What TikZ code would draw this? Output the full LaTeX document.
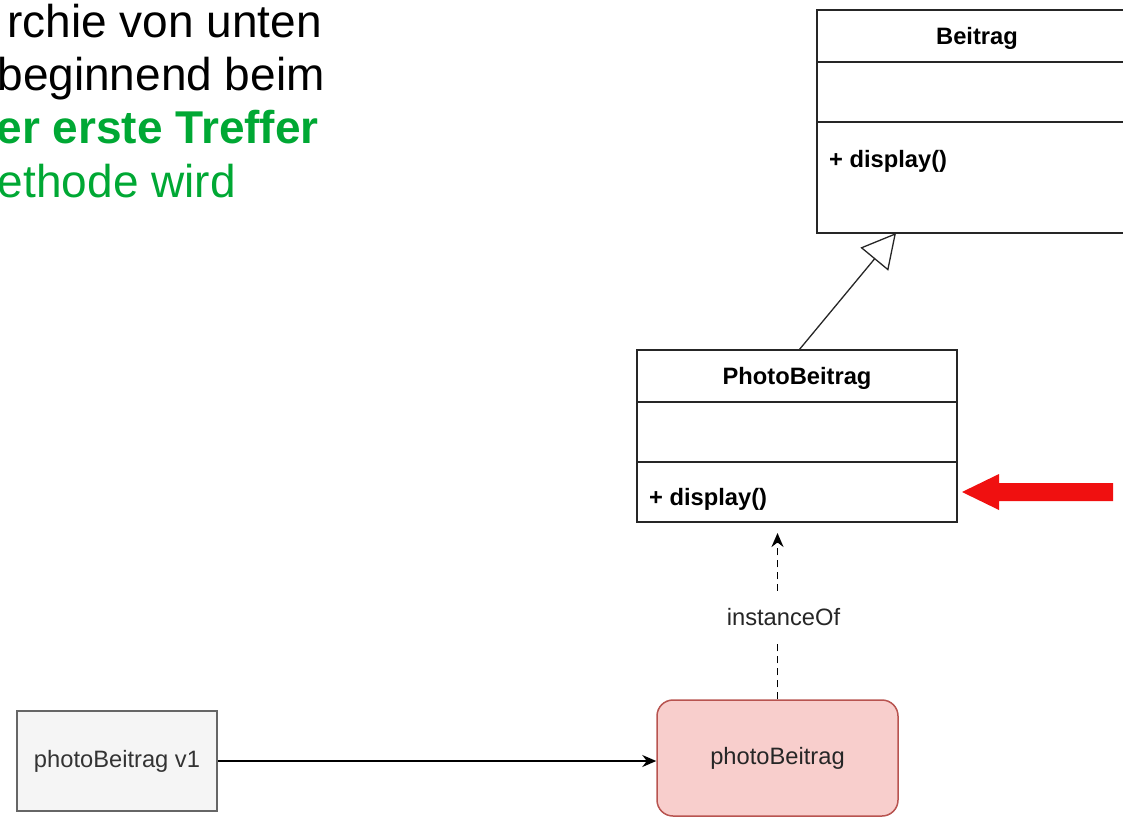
\documentclass[tikz,border=0pt]{standalone}
\usepackage{fontspec}
\setmainfont{Liberation Sans}
\usetikzlibrary{arrows.meta,calc}

\definecolor{hitgreen}{RGB}{0,168,52}
\definecolor{markred}{RGB}{240,16,16}
\definecolor{instfill}{HTML}{F8CECC}
\definecolor{instdraw}{HTML}{B85450}
\definecolor{reffill}{HTML}{F5F5F5}
\definecolor{refdraw}{HTML}{666666}
\definecolor{reftext}{HTML}{333333}

\tikzset{
  umlpart/.style={draw=black!85, line width=1.6pt, inner sep=0pt, outer sep=0pt,
    minimum width=320pt, anchor=north west},
  umlname/.style={font=\fontsize{23.7}{28}\selectfont\bfseries, anchor=base, inner sep=0pt},
  umlop/.style={font=\fontsize{23.7}{28}\selectfont\bfseries, anchor=base west, inner sep=0pt},
  plaintxt/.style={font=\fontsize{23.7}{28}\selectfont, inner sep=0pt},
  bigline/.style={font=\fontsize{46}{53}\selectfont, anchor=base east, inner sep=0pt},
  inherits/.style={line width=1.3pt, draw=black!85,
    -{Triangle[open, length=34pt, width=36pt, fill=white]}},
  instarrow/.style={line width=1.8pt, dash pattern=on 7pt off 5pt,
    -{Stealth[length=14pt, width=12pt]}},
  refarrow/.style={line width=1.6pt, -{Stealth[length=14pt, width=12pt]}},
}

\begin{document}
\begin{tikzpicture}[x=1pt, y=-1pt]
  \useasboundingbox (0,0) rectangle (1123,817);
  \clip (0,0) rectangle (1123,817);

  % explanatory text, upper left
  \node[bigline] (t1) at (322,37) {rchie von unten};
  \node[bigline] (t2) at (325,90) {beginnend beim};
  \node[bigline, text=hitgreen, font=\fontsize{46}{53}\selectfont\bfseries] (t3) at (319,143) {er erste Treffer};
  \node[bigline, text=hitgreen] (t4) at (236,197) {ethode wird};

  % class Beitrag
  \node[umlpart, minimum height=52pt] (bt) at (817,10) {};
  \node[umlpart, minimum height=60pt] (ba) at (bt.south west) {};
  \node[umlpart, minimum height=111pt] (bm) at (ba.south west) {};
  \node[umlname] (btn) at (977,44) {Beitrag};
  \node[umlop] (bop) at (829,167) {+ display()};

  % class PhotoBeitrag
  \node[umlpart, minimum height=52pt] (pt) at (637,350) {};
  \node[umlpart, minimum height=60pt] (pa) at (pt.south west) {};
  \node[umlpart, minimum height=60pt] (pm) at (pa.south west) {};
  \node[umlname] (ptn) at (797,384) {PhotoBeitrag};
  \node[umlop] (pop) at (649,505) {+ display()};

  % generalization PhotoBeitrag -> Beitrag
  \draw[inherits] ($(pt.north west)+(162,0)$) -- ($(bm.south west)+(79,0)$);

  % object and reference
  \node[draw=instdraw, fill=instfill, line width=1.5pt, rounded corners=16pt,
        minimum width=241pt, minimum height=116pt, plaintxt, text=black!85]
        (inst) at (777.5,758) {photoBeitrag};
  \node[draw=refdraw, fill=reffill, line width=1.5pt,
        minimum width=200pt, minimum height=100pt, plaintxt, text=reftext]
        (ref) at (117,761) {photoBeitrag v1};

  \draw[instarrow, shorten >=11pt] (inst.north) -- (inst.north |- pm.south)
    node[pos=0.49, fill=white, plaintxt, text=black!85, inner xsep=2pt, inner ysep=18pt,
         xshift=6pt, yshift=-5pt] (lbl) {instanceOf};

  \draw[refarrow] (ref.east) -- (ref.east -| inst.west);

  % red marker arrow pointing at the overriding method
  \coordinate (mk) at ($(pm.east)+(5,0)$);
  \fill[markred] (mk) -- ++(37,-18) -- ++(0,9) -- ++(114,0) -- ++(0,18)
    -- ++(-114,0) -- ++(0,9) -- cycle;
\end{tikzpicture}
\end{document}
